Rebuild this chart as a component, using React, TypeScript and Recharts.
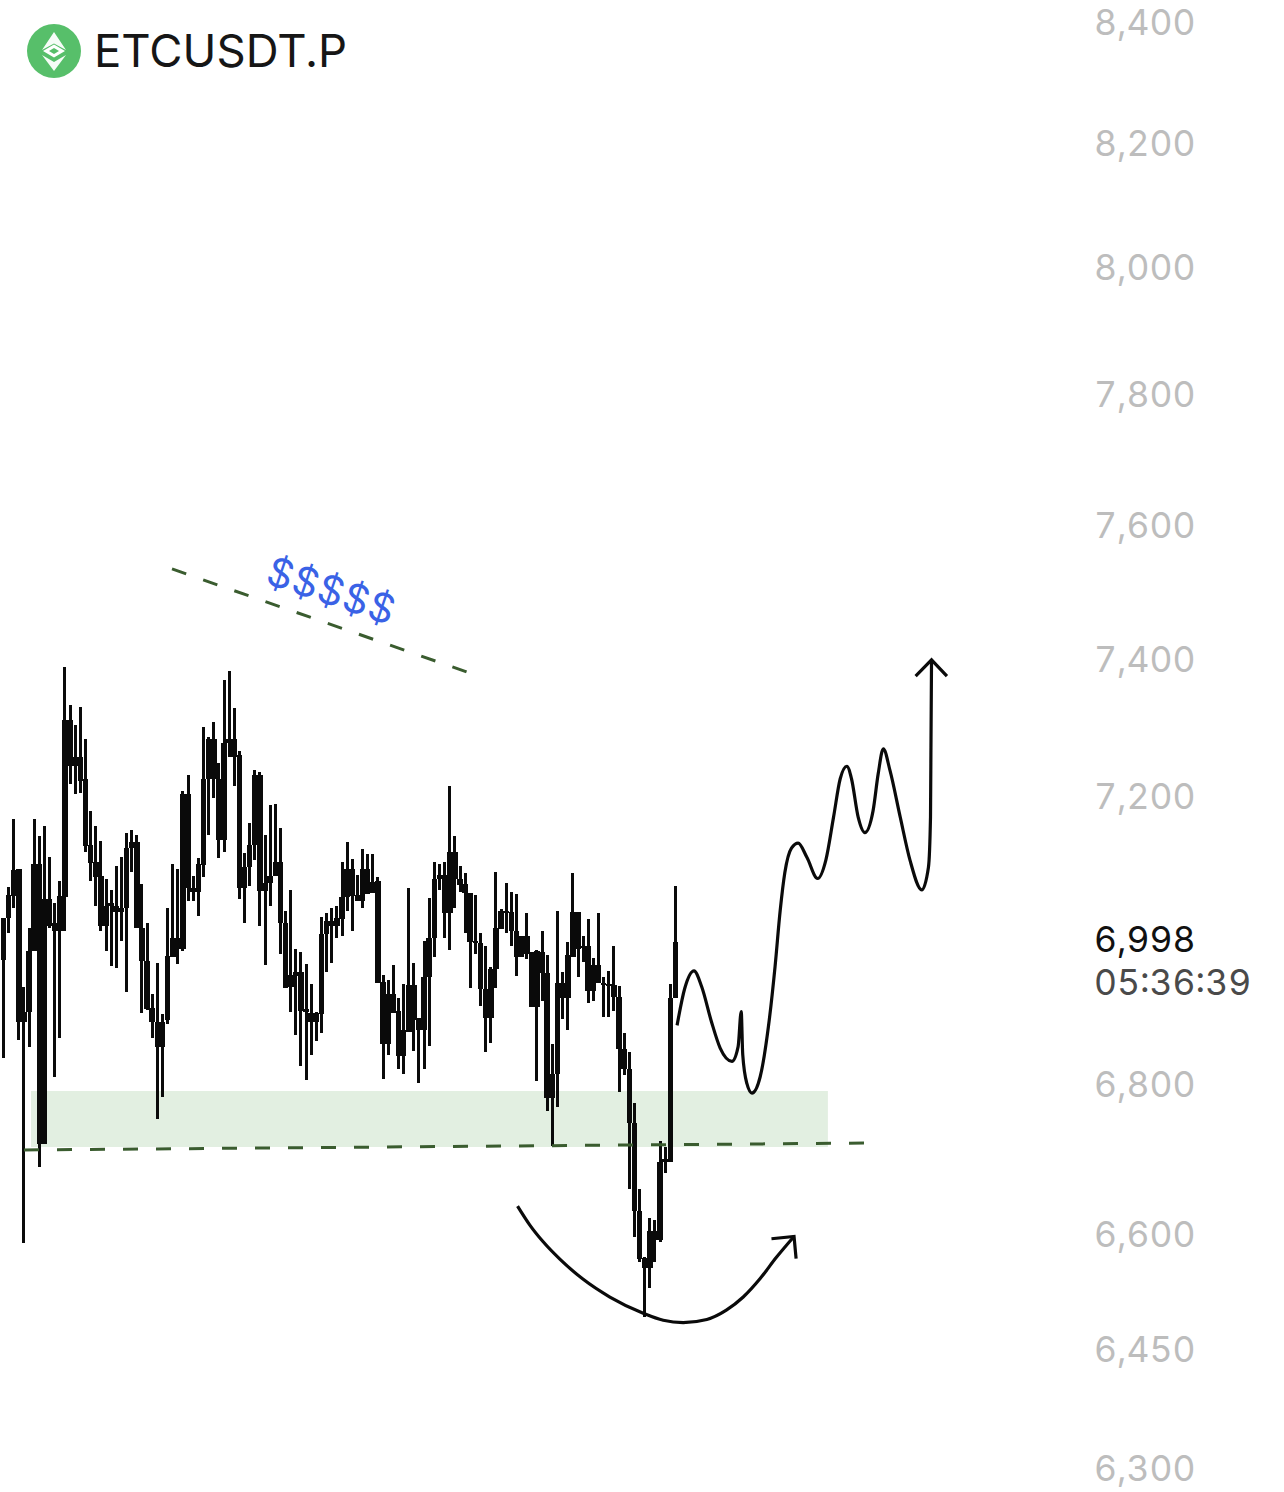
import { ComposedChart, Bar, Line, XAxis, YAxis, ReferenceArea, ReferenceDot } from "recharts";

// candle values, left to right
const highs = [7028,7072,7169,7097,6933,7014,7169,7144,7159,7115,7049,7080,7388,7333,7304,7330,7283,7180,7158,7137,7083,7068,7101,7115,7149,7152,7146,7076,7021,6923,6966,6896,7042,7104,7097,7209,7231,7087,7113,7301,7286,7308,7248,7369,7382,7328,7266,7120,7163,7238,7235,7145,7189,7190,7155,7039,7068,6985,6981,6964,6937,6899,7030,7035,7042,7046,7108,7135,7111,7089,7125,7118,7118,7086,6949,6942,6963,6918,6937,7070,6966,6890,6996,7056,7108,7104,7107,7215,7144,7101,7092,7063,7061,7008,6989,6960,7093,7041,7077,7065,7062,7004,7035,6981,6984,7011,6977,6855,7039,6953,6995,7092,7037,7003,7027,6973,7035,6947,6955,6989,6934,6870,6844,6775,6660,6570,6621,6619,6723,6716,6937,7073];
const bodyTops = [7028,7061,7096,7097,6899,6982,7104,7104,7055,7055,7021,7059,7311,7311,7257,7257,7225,7131,7107,7087,7046,7049,7045,7042,7127,7135,7135,7015,6968,6904,6884,6884,6975,7000,7000,7204,7204,7070,7104,7225,7283,7283,7226,7277,7283,7283,7260,7100,7132,7231,7231,7077,7087,7107,7107,7021,6949,6953,6953,6903,6897,6897,7006,7025,7025,7028,7058,7097,7097,7061,7097,7097,7079,7080,6940,6923,6923,6900,6873,6936,6936,6890,6947,7000,7084,7089,7089,7121,7121,7083,7076,7063,6997,6993,6930,6958,7014,7039,7038,7037,7010,7004,7004,6981,6982,6981,6952,6814,6938,6938,6977,7037,7037,6989,6989,6963,6963,6938,6937,6936,6919,6848,6821,6748,6631,6569,6604,6604,6696,6699,6918,6995];
const bodyBottoms = [6970,7028,7059,6884,6884,6899,6982,6720,6719,7018,7011,7011,7058,7244,7244,7223,7130,7106,7086,7018,7018,7045,7037,7037,7042,7127,7014,6968,6903,6884,6851,6851,6888,6974,6986,6986,7070,7065,7065,7103,7225,7226,7138,7138,7277,7257,7070,7070,7100,7132,7066,7066,7077,7087,7021,6931,6933,6948,6900,6899,6884,6884,6895,7006,7018,7017,7027,7058,7059,7052,7052,7062,7063,6938,6855,6855,6897,6838,6838,6871,6888,6873,6873,6947,7000,7084,7035,7035,7083,7075,7063,6995,6995,6930,6890,6890,6958,7013,7035,7010,6974,6974,6978,6905,6905,6952,6781,6781,6814,6918,6918,6974,6985,6988,6927,6927,6938,6937,6936,6919,6848,6821,6748,6631,6567,6556,6556,6593,6592,6696,6696,6918];
const lows = [6836,7007,7042,6860,6588,6851,6982,6689,6719,7015,6810,6863,7010,7218,7204,7206,7121,7080,7046,7011,6982,6962,6959,6997,6926,7093,7014,6897,6901,6863,6753,6783,6882,6974,6964,6982,7052,7052,7031,7086,7145,7199,7113,7121,7257,7215,7055,7021,7073,7110,7018,6963,7046,7087,6979,6931,6899,6867,6825,6805,6840,6858,6870,6953,6966,7001,7003,7038,7011,7052,7042,7062,7063,6938,6807,6840,6897,6821,6814,6871,6845,6801,6821,6852,6974,7068,7000,6984,7042,7065,7008,6931,6979,6907,6844,6856,6931,7013,7007,6989,6948,6974,6971,6905,6804,6914,6764,6717,6769,6889,6874,6974,6947,6967,6911,6914,6938,6892,6892,6900,6789,6812,6660,6596,6563,6492,6530,6563,6590,6681,6695,6918];

const priceTicks = [8400,8200,8000,7800,7600,7400,7200,6998,6800,6600,6450,6300];
const lastPrice = 6998;
const countdown = "05:36:39";

// hand drawn bits, [bar index, price]
const forecastPath = [[131.3,6880],[132.8,6931],[134.6,6955],[136.1,6933],[138,6885],[139.7,6849],[142,6831],[143.2,6851],[143.8,6899],[144.1,6840],[144.9,6801],[145.9,6788],[147.5,6810],[149.1,6878],[150.4,6961],[151.4,7039],[152.3,7092],[153.6,7127],[154.9,7134],[156.6,7114],[158.7,7084],[160.3,7110],[161.8,7171],[163.1,7226],[164.4,7244],[165.3,7226],[166.6,7171],[167.9,7149],[169.5,7180],[170.5,7233],[171.5,7269],[172.8,7238],[174.8,7171],[176.7,7110],[179,7068],[180.3,7100],[180.7,7171],[180.9,7399]];
const forecastHead = [[177.8,7375],[180.9,7399],[183.9,7375]];
const sweepCurve = [[100.2,6637],[102.6,6612],[105.2,6590],[108.5,6567],[113,6541],[118.2,6518],[124.7,6497],[128.6,6488],[132.5,6485],[137.1,6489],[140.9,6501],[144.2,6518],[147.5,6542],[150.7,6570],[154.1,6597]];
const sweepHead = [[149.7,6594],[154.1,6597],[154.5,6568]];
const supportLine = [[4,6711.5],[168.1,6720.8]];
const topLine = [[32.85,7534],[90.94,7379.5]];
const zone = { x1: 5.36, x2: 160.7, top: 6790.7, bottom: 6715.5 };
const dollarsAt = { x: 64, y: 7502 };

const candles = highs.map((h, i) => ({
  i,
  wick: [lows[i], h],
  body: [bodyBottoms[i], bodyTops[i]],
}));
const toPoints = (list: number[][]) => list.map(([i, price]) => ({ i, price }));

const X_DOMAIN = [-0.682, 213.74];
const Y_DOMAIN = [6270, 8437];
const INK = "#0a0a0a";
const DASH_GREEN = "#3a5c2f";

function PriceTick({ x, y, payload }: any) {
  const live = payload.value === lastPrice;
  const common = {
    x: x - 4,
    fontFamily: "Inter",
    fontSize: 35.5,
    textAnchor: "start" as const,
    dominantBaseline: "central" as const,
    style: { fontVariantNumeric: "tabular-nums" },
  };
  return (
    <g>
      <text {...common} y={y} fill={live ? "#111111" : "#bdbdbd"}>
        {payload.value.toLocaleString("en-US")}
      </text>
      {live && (
        <text {...common} y={y + 43} fill="#4a4a4a">
          {countdown}
        </text>
      )}
    </g>
  );
}

function Dollars({ cx, cy }: any) {
  return (
    <text
      x={cx}
      y={cy}
      transform={`rotate(18.7 ${cx} ${cy})`}
      fontFamily="Inter"
      fontSize={40}
      letterSpacing={1}
      fill="#3a62e6"
      textAnchor="middle"
      dominantBaseline="central"
    >
      $$$$$
    </text>
  );
}

function CoinLogo() {
  return (
    <svg width={54} height={54} viewBox="0 0 54 54" style={{ position: "absolute", left: 27, top: 24 }}>
      <circle cx={27} cy={27} r={27} fill="#57bf6a" />
      <polygon points="27,8 39,26 27,19.5 15,26" fill="#ffffff" opacity={0.95} />
      <polygon points="27,20.5 38,27 27,33.5 16,27" fill="#ffffff" />
      <polygon points="27,24 32,27 27,30 22,27" fill="#57bf6a" />
      <polygon points="15,31 27,38 39,31 27,47" fill="#ffffff" opacity={0.95} />
    </svg>
  );
}

// keeps the bar's centre and price range, only fixes how wide it is painted
const candlePart = (w: number) => (props: any) => {
  const top = Math.min(props.y, props.y + props.height);
  const h = Math.abs(props.height);
  return <rect x={props.x + props.width / 2 - w / 2} y={top} width={w} height={Math.max(h, 2)} fill={INK} shapeRendering="crispEdges" />;
};

export default function App() {
  const sketch = (data: number[][], key: string, type: "linear" | "monotone", width = 3.2) => (
    <Line
      key={key}
      xAxisId="sketch"
      data={toPoints(data)}
      dataKey="price"
      type={type}
      stroke={INK}
      strokeWidth={width}
      dot={false}
      activeDot={false}
      isAnimationActive={false}
    />
  );

  return (
    <div style={{ position: "absolute", left: 0, top: 0, width: 1284, height: 1492, background: "#fff" }}>
      <ComposedChart width={1284} height={1492} data={candles} margin={{ top: 0, right: 0, bottom: 0, left: 0 }}>
        <XAxis xAxisId="wick" dataKey="i" type="number" domain={X_DOMAIN} allowDataOverflow hide />
        <XAxis xAxisId="body" dataKey="i" type="number" domain={X_DOMAIN} allowDataOverflow hide />
        <XAxis xAxisId="sketch" dataKey="i" type="number" domain={X_DOMAIN} allowDataOverflow hide />
        <YAxis
          orientation="right"
          width={184}
          scale="log"
          domain={Y_DOMAIN}
          allowDataOverflow
          ticks={priceTicks}
          interval={0}
          axisLine={false}
          tickLine={false}
          tickMargin={0}
          tick={(props: any) => <PriceTick {...props} x={props.x - 8} />}
        />
        <ReferenceArea
          xAxisId="sketch"
          x1={zone.x1}
          x2={zone.x2}
          y1={zone.bottom}
          y2={zone.top}
          fill="#e2efe1"
          fillOpacity={1}
          stroke="none"
        />
        <Bar xAxisId="wick" dataKey="wick" barSize={3} shape={candlePart(3)} isAnimationActive={false} />
        <Bar xAxisId="body" dataKey="body" barSize={5} shape={candlePart(5.6)} isAnimationActive={false} />
        {sketch(forecastPath, "forecast", "monotone")}
        {sketch(forecastHead, "forecast-head", "linear")}
        {sketch(sweepCurve, "sweep", "monotone")}
        {sketch(sweepHead, "sweep-head", "linear")}
        <Line
          xAxisId="sketch"
          data={toPoints(supportLine)}
          dataKey="price"
          type="linear"
          stroke={DASH_GREEN}
          strokeWidth={3}
          strokeDasharray="15 18"
          dot={false}
          activeDot={false}
          isAnimationActive={false}
        />
        <Line
          xAxisId="sketch"
          data={toPoints(topLine)}
          dataKey="price"
          type="linear"
          stroke={DASH_GREEN}
          strokeWidth={3}
          strokeDasharray="15 18"
          dot={false}
          activeDot={false}
          isAnimationActive={false}
        />
        <ReferenceDot xAxisId="sketch" x={dollarsAt.x} y={dollarsAt.y} r={0} shape={<Dollars />} />
      </ComposedChart>
      <CoinLogo />
      <div
        style={{
          position: "absolute",
          left: 94,
          top: 24,
          fontFamily: "Inter",
          fontSize: 45.5,
          lineHeight: "54px",
          color: "#161616",
          whiteSpace: "nowrap",
        }}
      >
        ETCUSDT.P
      </div>
    </div>
  );
}
